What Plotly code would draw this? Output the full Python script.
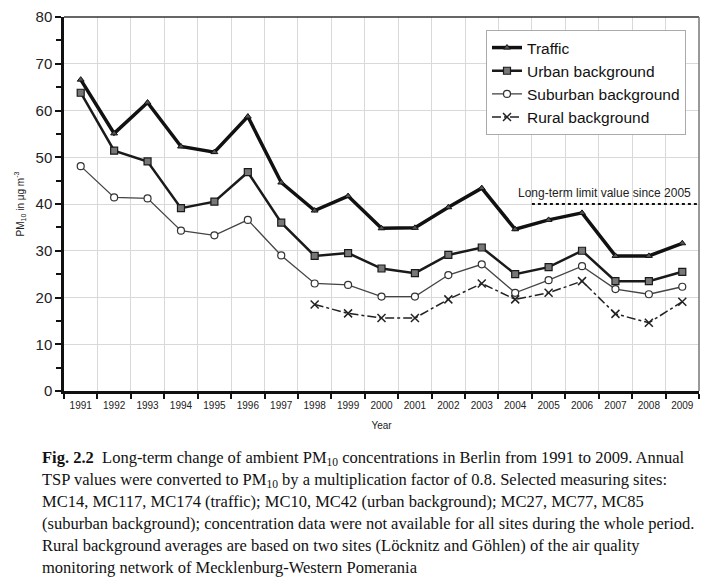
import plotly.graph_objects as go

years = [str(y) for y in range(1991, 2010)]
traffic = [66.6, 55.1, 61.7, 52.3, 51.1, 58.7, 44.6, 38.6, 41.7, 34.8, 34.9, 39.3, 43.4, 34.6, 36.6, 38.1, 28.9, 28.9, 31.6]
urban = [63.8, 51.4, 49.1, 39.1, 40.5, 46.8, 36.0, 28.9, 29.5, 26.2, 25.2, 29.1, 30.7, 25.0, 26.5, 30.0, 23.5, 23.5, 25.5]
suburban = [48.1, 41.4, 41.2, 34.3, 33.3, 36.6, 29.0, 23.0, 22.7, 20.2, 20.2, 24.8, 27.1, 21.0, 23.7, 26.7, 21.8, 20.7, 22.3]
rural_years = [str(y) for y in range(1998, 2010)]
rural = [18.5, 16.6, 15.6, 15.6, 19.6, 23.0, 19.6, 21.0, 23.5, 16.5, 14.6, 19.1]
limit_value = 40
limit_label = "Long-term limit value since 2005"

caption_lines = [
    "<b>Fig. 2.2</b>  Long-term change of ambient PM<sub>10</sub> concentrations in Berlin from 1991 to 2009. Annual",
    "TSP values were converted to PM<sub>10</sub> by a multiplication factor of 0.8. Selected measuring sites:",
    "MC14, MC117, MC174 (traffic); MC10, MC42 (urban background); MC27, MC77, MC85",
    "(suburban background); concentration data were not available for all sites during the whole period.",
    "Rural background averages are based on two sites (Löcknitz and Göhlen) of the air quality",
    "monitoring network of Mecklenburg-Western Pomerania",
]

# page has an 8px body margin -> figure is offset by 8px
OFF = 8
W, H = 720 - OFF, 577 - OFF
L, T = 64 - OFF, 17 - OFF
R = 720 - 699
B = 577 - 391
PW, PH = W - L - R, H - T - B


def px_to_paper(xpix, ypix):
    # pixel coords in the final screenshot -> plot-area paper coords
    return (xpix - OFF - L) / PW, (H - B - (ypix - OFF)) / PH


fig = go.Figure()
fig.add_trace(go.Scatter(x=years, y=traffic, name="Traffic", mode="lines+markers",
                         line=dict(color="#111111", width=3.5),
                         marker=dict(symbol="triangle-up", size=6, color="#555555",
                                     line=dict(color="#111111", width=1))))
fig.add_trace(go.Scatter(x=years, y=urban, name="Urban background", mode="lines+markers",
                         line=dict(color="#1a1a1a", width=2.5),
                         marker=dict(symbol="square", size=7, color="#777777",
                                     line=dict(color="#1a1a1a", width=1.2))))
fig.add_trace(go.Scatter(x=years, y=suburban, name="Suburban background", mode="lines+markers",
                         line=dict(color="#444444", width=1.3),
                         marker=dict(symbol="circle", size=7, color="white",
                                     line=dict(color="#333333", width=1.2))))
fig.add_trace(go.Scatter(x=rural_years, y=rural, name="Rural background", mode="lines+markers",
                         line=dict(color="#222222", width=1.5, dash="dashdot"),
                         marker=dict(symbol="x-thin", size=8, color="#222222",
                                     line=dict(color="#222222", width=1.5))))
# limit line from 2005 onwards (numeric overlay axis, category boundaries)
fig.add_trace(go.Scatter(x=[13.5, 18.5], y=[limit_value, limit_value], mode="lines",
                         line=dict(color="#111111", width=2, dash="dot"),
                         showlegend=False, hoverinfo="skip", xaxis="x2"))

lx, ly = px_to_paper(486, 30)
fig.update_layout(
    width=W, height=H,
    margin=dict(l=L, r=R, t=T, b=B, autoexpand=False),
    plot_bgcolor="white", paper_bgcolor="white",
    font=dict(family="Arial, Liberation Sans, sans-serif", color="#222222"),
    showlegend=True,
    legend=dict(x=lx, y=ly, xanchor="left", yanchor="top",
                bordercolor="#aaaaaa", borderwidth=1, bgcolor="white",
                font=dict(size=15.5, color="#111111"), tracegroupgap=0,
                itemwidth=30),
    xaxis=dict(type="category", categoryorder="array", categoryarray=years,
               tickson="boundaries", range=[-0.5, 18.5], automargin=False,
               showgrid=True, gridcolor="#d9d9d9", gridwidth=1,
               showline=True, linecolor="#111111", linewidth=2.5,
               ticks="outside", ticklen=5, tickwidth=2, tickcolor="#111111",
               ticklabelstandoff=3,
               tickfont=dict(size=10, color="#222222"),
               title=dict(text="Year", font=dict(size=10), standoff=13),
               zeroline=False),
    xaxis2=dict(type="linear", range=[-0.5, 18.5], overlaying="x", visible=False),
    yaxis=dict(range=[0, 80], dtick=10, showgrid=True, gridcolor="#d9d9d9", gridwidth=1,
               showline=True, linecolor="#111111", linewidth=2.5, automargin=False,
               ticks="outside", ticklen=6, tickwidth=2, tickcolor="#111111",
               minor=dict(dtick=5, ticks="outside", ticklen=5, tickwidth=2,
                          tickcolor="#111111", showgrid=False),
               tickfont=dict(size=15, color="#222222"),
               title=dict(text="PM<sub>10</sub> in μg m<sup>-3</sup>", font=dict(size=10), standoff=10),
               zeroline=False),
)

# frame top/right
fig.add_shape(type="line", xref="paper", yref="paper", x0=0, x1=1, y0=1, y1=1,
              line=dict(color="#333333", width=1.5))
fig.add_shape(type="line", xref="paper", yref="paper", x0=1, x1=1, y0=0, y1=1,
              line=dict(color="#777777", width=1.5))

fig.add_annotation(x=px_to_paper(693, 0)[0], y=42.4, xref="paper", yref="y", text=limit_label,
                   showarrow=False, xanchor="right", yanchor="middle",
                   font=dict(size=12, color="#222222"))

y0 = 458
for i, line in enumerate(caption_lines):
    xp, yp = px_to_paper(40, y0 + i * 21.8)
    fig.add_annotation(x=xp, y=yp, xref="paper", yref="paper",
                       text=line, showarrow=False, xanchor="left", yanchor="middle",
                       font=dict(family="Liberation Serif, Times New Roman, serif", size=16.5, color="#111111"))

fig.write_html("out.html")
